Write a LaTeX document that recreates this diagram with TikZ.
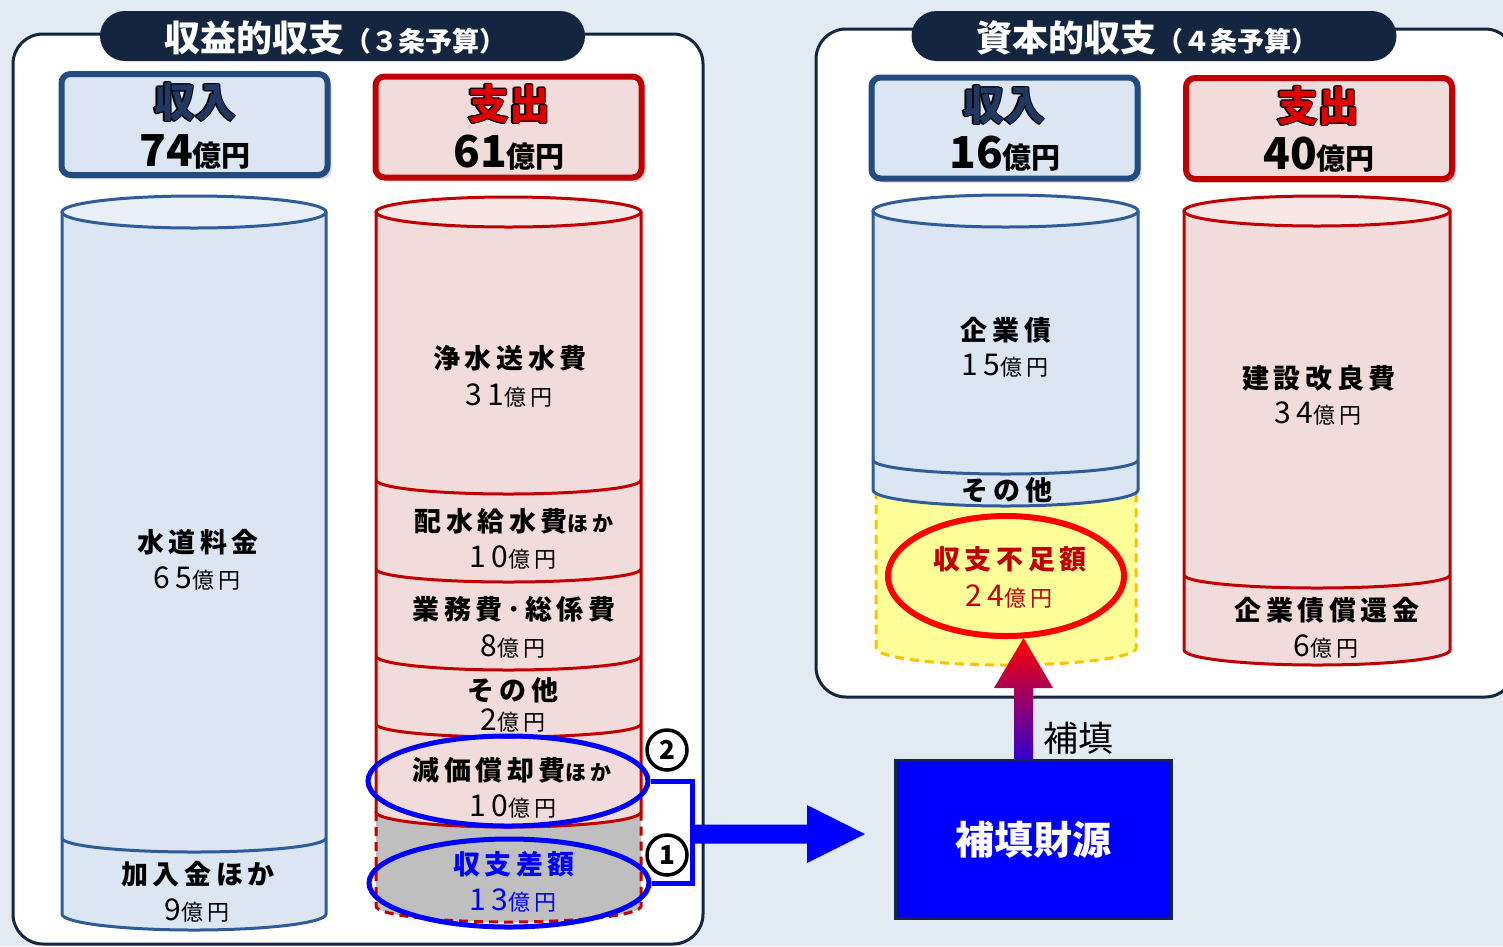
\documentclass[tikz,border=0pt]{standalone}
\usepackage{fontspec}
\setmainfont{Noto Sans CJK JP}
\newfontfamily\jpsp{Noto Sans CJK JP}[LetterSpace=17]
\usetikzlibrary{shapes.geometric,shadows}
\definecolor{bg}{HTML}{E2EAF4}
\definecolor{navy}{HTML}{13253F}
\definecolor{inbd}{HTML}{244B80}
\definecolor{infill}{HTML}{DCE6F2}
\definecolor{intop}{HTML}{E9EFF7}
\definecolor{cylblue}{HTML}{2E5C99}
\definecolor{outbd}{HTML}{C00000}
\definecolor{outfill}{HTML}{F2DCDB}
\definecolor{outtop}{HTML}{F7E7E7}
\definecolor{gapgray}{HTML}{BFBFBF}
\definecolor{yel}{HTML}{FFFF99}
\definecolor{orng}{HTML}{FFC000}
\definecolor{vivid}{HTML}{0000FF}
\definecolor{hdrred}{HTML}{E00000}
\definecolor{hdrnavy}{HTML}{1F3864}
\definecolor{darkred}{HTML}{C00000}
\definecolor{purp}{HTML}{3300CC}

\newcommand\cylside[6]{%
  \pgfmathsetmacro\cylrx{(#2-#1)/2}%
  \draw[#6] (#1,#3) -- (#1,#4) arc[start angle=180,end angle=360,x radius=\cylrx pt,y radius=#5pt] -- (#2,#3);}
\newcommand\cylfill[6]{%
  \pgfmathsetmacro\cylrx{(#2-#1)/2}%
  \fill[#6] (#1,#3) -- (#1,#4) arc[start angle=180,end angle=360,x radius=\cylrx pt,y radius=#5pt] -- (#2,#3) -- cycle;}
\newcommand\cylsep[5]{%
  \pgfmathsetmacro\cylrx{(#2-#1)/2}%
  \draw[#5] (#1,#3) arc[start angle=180,end angle=360,x radius=\cylrx pt,y radius=#4pt];}
\newcommand\cyltop[5]{%
  \pgfmathsetmacro\cylrx{(#2-#1)/2}%
  \pgfmathsetmacro\cylcx{(#1+#2)/2}%
  \draw[#5] (\cylcx,#3) ellipse[x radius=\cylrx pt,y radius=#4pt];}
% outlined header word: name, position, colour, text
\newcommand\outlword[4]{%
  \foreach \ox/\oy in {1.3/0,-1.3/0,0/1.3,0/-1.3,0.9/0.9,-0.9/0.9,0.9/-0.9,-0.9/-0.9}{%
    \node[hdrword, text=black, xshift=\ox pt, yshift=\oy pt] at #2 {#4};}%
  \node[hdrword, text=#3] (#1) at #2 {#4};}
\newcommand\oku{{\fontsize{22}{24}\selectfont 億円}}
\newcommand\hoku{{\fontsize{29}{30}\selectfont 億円}}

\tikzset{
  every node/.style={inner sep=0pt},
  wlab/.style={font=\jpsp\bfseries\fontsize{27}{30}\selectfont},
  wnum/.style={font=\jpsp\fontsize{30}{32}\selectfont},
  panel/.style={draw=navy, line width=3pt, fill=white, rounded corners=30pt},
  pill/.style={fill=navy, rounded corners=25pt, minimum width=485pt, minimum height=50pt},
  pilltext/.style={text=white, font=\bfseries\fontsize{36}{40}\selectfont},
  hdrbox/.style={rounded corners=9pt, line width=6pt, minimum width=266pt, minimum height=101pt,
     drop shadow={shadow xshift=4pt, shadow yshift=-4pt, opacity=0.3}},
  inbox/.style={hdrbox, draw=inbd, fill=infill},
  outbox/.style={hdrbox, draw=outbd, fill=outfill},
  hdrword/.style={font=\bfseries\fontsize{41}{44}\selectfont},
  hdrnum/.style={font=\bfseries\fontsize{44}{46}\selectfont},
  bluecyl/.style={draw=cylblue, line width=3pt},
  redcyl/.style={draw=outbd, line width=3pt},
  hiell/.style={ellipse, draw=vivid, line width=5pt},
  cnum/.style={circle, draw=black, line width=3.5pt, minimum size=40pt, font=\bfseries\fontsize{26}{28}\selectfont},
}

\begin{document}
\begin{tikzpicture}[x=1pt,y=-1pt]
\useasboundingbox (0,0) rectangle (1503,946);
\fill[bg] (0,0) rectangle (1503,946);

% panels
\draw[panel] (13,34) rectangle (703,944);
\draw[panel] (816,29) rectangle (1515,697);

% title pills
\node[pill] (pillL) at (342.5,36) {};
\node[pilltext] (titleL) at (335,38) {収益的収支{\fontsize{27}{30}\selectfont （３条予算）}};
\node[pill] (pillR) at (1154,36) {};
\node[pilltext] (titleR) at (1147,38) {資本的収支{\fontsize{27}{30}\selectfont （４条予算）}};

% header boxes left
\node[inbox] (inL) at (194.5,124.5) {};
\outlword{inLw}{(195,102)}{hdrnavy}{収入}
\node[hdrnum] (inLn) at (195,152) {74\hoku};
\node[outbox] (outL) at (508.5,127) {};
\outlword{outLw}{(509,104)}{hdrred}{支出}
\node[hdrnum] (outLn) at (509,153) {61\hoku};
% header boxes right
\node[inbox] (inR) at (1004.5,128) {};
\outlword{inRw}{(1004,105)}{hdrnavy}{収入}
\node[hdrnum] (inRn) at (1005,154) {16\hoku};
\node[outbox] (outR) at (1319,128.5) {};
\outlword{outRw}{(1318,106)}{hdrred}{支出}
\node[hdrnum] (outRn) at (1319,155) {40\hoku};

% ---- cylinder A (left income)
\cylfill{62}{326}{212}{914}{16}{infill}
\cylside{62}{326}{212}{914}{16}{bluecyl}
\cylsep{62}{326}{838}{14}{bluecyl}
\cyltop{62}{326}{212}{16}{bluecyl, fill=intop}
\node[wlab] (a1) at (198,542) {水道料金};
\node[wnum] (a1n) at (197,578) {65\oku};
\node[wlab] (a2) at (198,874) {加入金ほか};
\node[wnum] (a2n) at (197,910) {9\oku};

% ---- cylinder B (left expense)
\cylfill{376}{641}{812}{906}{16}{gapgray}
\cylside{376}{641}{812}{906}{16}{redcyl, dashed, dash pattern=on 9pt off 6pt}
\cylfill{376}{641}{212}{812}{15}{outfill}
\cylside{376}{641}{212}{812}{15}{redcyl}
\cylsep{376}{641}{480}{14}{redcyl}
\cylsep{376}{641}{569}{13}{redcyl}
\cylsep{376}{641}{656}{14}{redcyl}
\cylsep{376}{641}{724}{13}{redcyl}
\cyltop{376}{641}{212}{15}{redcyl, fill=outtop}
\node[wlab] (b1) at (510,358) {浄水送水費};
\node[wnum] (b1n) at (509,395) {31\oku};
\node[wlab] (b2) at (514,521) {配水給水費{\fontsize{21}{24}\selectfont ほか}};
\node[wnum] (b2n) at (513,557) {10\oku};
\node[wlab] (b3) at (514,609) {業務費･総係費};
\node[wnum] (b3n) at (513,646) {8\oku};
\node[wlab] (b4) at (513,690) {その他};
\node[wnum] (b4n) at (513,720) {2\oku};
\node[wlab] (b5) at (512,770) {減価償却費{\fontsize{21}{24}\selectfont ほか}};
\node[wnum] (b5n) at (513,806) {10\oku};
\node[wlab, text=vivid] (b6) at (514,864) {収支差額};
\node[wnum, text=vivid] (b6n) at (513,900) {13\oku};

% highlight ellipses, bracket, arrow
\node[hiell, minimum width=280pt, minimum height=90pt] (ell2) at (508,781) {};
\node[hiell, minimum width=280pt, minimum height=88pt] (ell1) at (509,883) {};
\node[cnum] (c2) at (667,750) {2};
\node[cnum] (c1) at (667,855) {1};
\coordinate (brk) at (692,834);
\draw[vivid, line width=5pt] (ell2.east) -- (ell2.east -| brk) -- (ell1.east -| brk) -- (ell1.east);
\coordinate (arrT) at (865,834);
\fill[vivid] (brk) ++(0,-9.5) -- ++(115,0) -- ++(0,-19.5) -- (arrT) -- ++(-58,29) -- ++(0,-19.5) -- ++(-115,0) -- cycle;

% fund box
\node[fill=vivid, draw=navy, line width=3pt, minimum width=276pt, minimum height=158pt,
      text=white, font=\bfseries\fontsize{39}{40}\selectfont] (fund) at (1033,839.5) {補填財源};
\node[font=\fontsize{35}{36}\selectfont] (hoten) at (1078,738) {補填};

% ---- cylinder C (right income)
\cylfill{876}{1136}{490}{648}{17}{yel}
\cylside{876}{1136}{490}{648}{17}{draw=orng, line width=3pt, dash pattern=on 9pt off 6pt}
\cylfill{873}{1138}{211}{490}{16}{infill}
\cylside{873}{1138}{211}{490}{16}{bluecyl}
\cylsep{873}{1138}{460}{14}{bluecyl}
\cyltop{873}{1138}{211}{16}{bluecyl, fill=intop}
\node[wlab] (c1l) at (1006,330) {企業債};
\node[wnum] (c1n) at (1005,366) {15\oku};
\node[wlab] (c2l) at (1007,490) {その他};
\node[ellipse, draw=red, line width=6pt, minimum width=236pt, minimum height=120pt] (short) at (1006,576) {};
\node[wlab, text=darkred] (c3l) at (1010,559) {収支不足額};
\node[wnum, text=darkred] (c3n) at (1009,596) {24\oku};

% gradient arrow
\coordinate (gB) at (1023.5,760);
\coordinate (gT) at (1023.5,638);
\shade[top color=red, bottom color=purp] (gB) ++(-9.5,0) -- ++(0,-72) -- ++(-20,0) -- (gT) -- ++(29.5,50) -- ++(-20,0) -- ++(0,72) -- cycle;

% ---- cylinder D (right expense)
\cylfill{1184}{1450}{211}{650}{15}{outfill}
\cylside{1184}{1450}{211}{650}{15}{redcyl}
\cylsep{1184}{1450}{575}{13}{redcyl}
\cyltop{1184}{1450}{211}{15}{redcyl, fill=outtop}
\node[wlab] (d1) at (1319,378) {建設改良費};
\node[wnum] (d1n) at (1318,413) {34\oku};
\node[wlab] (d2) at (1327,610) {企業債償還金};
\node[wnum] (d2n) at (1326,646) {6\oku};
\end{tikzpicture}
\end{document}
